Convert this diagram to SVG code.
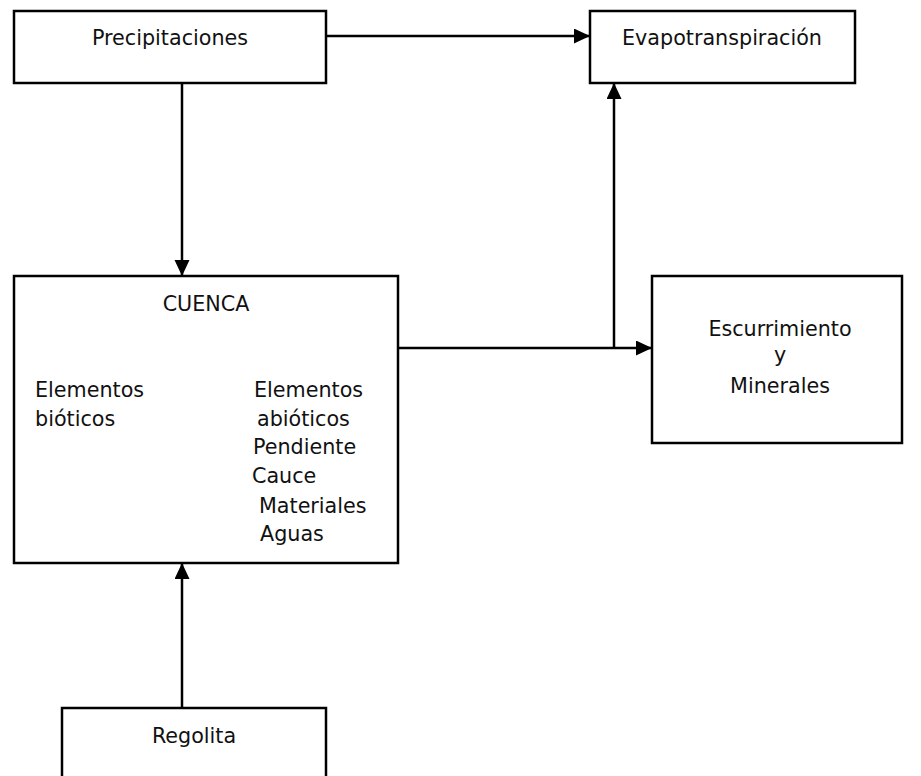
<svg xmlns="http://www.w3.org/2000/svg" width="921" height="776" viewBox="0 0 921 776">
<style>
.box{fill:#fff;stroke:#000;stroke-width:2.5}
.t{font-family:"DejaVu Sans","Liberation Sans",sans-serif;font-size:20.7px;fill:#111}
.c{text-anchor:middle}
.ln{fill:none;stroke:#000;stroke-width:2.5}
</style>
<defs>
<marker id="ah" markerUnits="userSpaceOnUse" markerWidth="17" markerHeight="16" refX="16" refY="7.5" orient="auto">
<path d="M0,0 L16,7.5 L0,15 Z" fill="#000"/>
</marker>
</defs>
<g id="connectors">
<line class="ln" x1="326" y1="36" x2="590" y2="36" marker-end="url(#ah)"/>
<line class="ln" x1="182" y1="83" x2="182" y2="276" marker-end="url(#ah)"/>
<line class="ln" x1="398" y1="348" x2="652" y2="348" marker-end="url(#ah)"/>
<line class="ln" x1="614" y1="348" x2="614" y2="83" marker-end="url(#ah)"/>
<line class="ln" x1="182" y1="708" x2="182" y2="563" marker-end="url(#ah)"/>
</g>
<g id="precipitaciones">
<rect class="box" x="14" y="11" width="312" height="72"/>
<text class="t c" x="170" y="45">Precipitaciones</text>
</g>
<g id="evapotranspiracion">
<rect class="box" x="590" y="11" width="265" height="72"/>
<text class="t c" x="722" y="45">Evapotranspiración</text>
</g>
<g id="cuenca">
<rect class="box" x="14" y="276" width="384" height="287"/>
<text class="t c" x="206" y="311">CUENCA</text>
<text class="t" x="35" y="397">Elementos</text>
<text class="t" x="35" y="426">bióticos</text>
<text class="t" x="254" y="397">Elementos</text>
<text class="t" x="257" y="426">abióticos</text>
<text class="t" x="253" y="454">Pendiente</text>
<text class="t" x="252" y="483">Cauce</text>
<text class="t" x="259" y="513">Materiales</text>
<text class="t" x="260" y="541">Aguas</text>
</g>
<g id="escurrimiento">
<rect class="box" x="652" y="276" width="250" height="167"/>
<text class="t c" x="780" y="336">Escurrimiento</text>
<text class="t c" x="780" y="362">y</text>
<text class="t c" x="780" y="393">Minerales</text>
</g>
<g id="regolita">
<rect class="box" x="62" y="708" width="264" height="90"/>
<text class="t c" x="194" y="743">Regolita</text>
</g>
</svg>
